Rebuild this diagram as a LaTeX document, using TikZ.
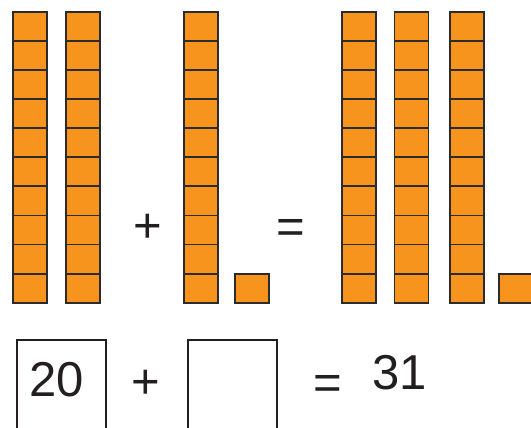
\documentclass[tikz,border=0pt]{standalone}
\usepackage{fontspec}
\setmainfont{Liberation Sans}
\usetikzlibrary{positioning,calc}
\definecolor{blockorange}{HTML}{F7941D}
\definecolor{blockedge}{HTML}{2B2B2B}
\definecolor{ink}{HTML}{231F20}
\tikzset{
  unit/.style   ={draw=blockedge, fill=blockorange, line width=1.8pt, rectangle,
                  minimum width=34pt, minimum height=29.1pt, inner sep=0pt, outer sep=0pt},
  ansbox/.style ={draw=ink, line width=1.8pt, rectangle, minimum width=89pt,
                  minimum height=120pt, inner sep=0pt},
  sym/.style    ={text=ink, font=\fontsize{49}{49}\selectfont, inner sep=0pt},
}
\begin{document}
\begin{tikzpicture}[x=1pt, y=-1pt]
\clip (0,0) rectangle (531,428);
% tens on the left, tens on the right
\foreach \c/\cx in {a/30, b/83, c/201, d/359, e/411.5, f/467}
  \foreach \r in {1,...,10}
    \node[unit] (\c-\r) at (\cx, {26.25+29.1*(\r-1)}) {};
% the single ones
\node[unit, right=17pt of c-10] (one1) {};
\node[unit, right=15pt of f-10] (one2) {};
% signs between the groups
\node[sym] (plus1) at (148,228) {+};
\node[sym] (eq1) at (291,231) {=};
% number sentence
\node[ansbox, anchor=north west] (box1) at (16,339) {};
\node[ansbox, anchor=north west] (box2) at (187,339) {};
\node[sym] (n20) at (57,380) {20};
\node[sym] (plus2) at (146,384) {+};
\node[sym] (eq2) at (328,387) {=};
\node[sym] (n31) at (400,373) {31};
\end{tikzpicture}
\end{document}
